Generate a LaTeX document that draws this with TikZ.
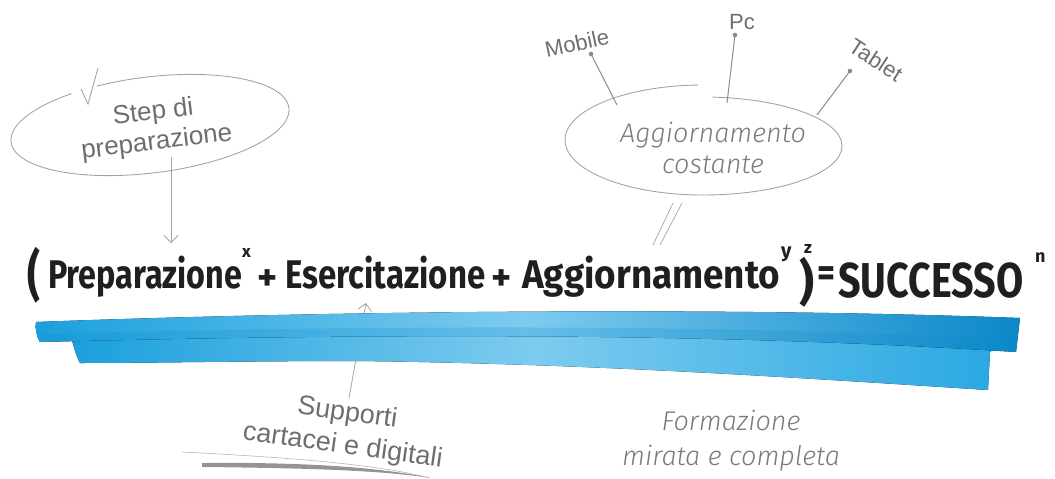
\documentclass[tikz,border=0pt]{standalone}
\usepackage{fontspec}
\setmainfont{Liberation Sans}
\newfontfamily\formfont{Fira Sans}
\newfontfamily\handfont{Fira Sans Light}[ItalicFont={Fira Sans Light Italic}]
\usetikzlibrary{arrows.meta}
\newcommand\fs[1]{\fontsize{#1}{#1}\selectfont}
\newcommand\fitw[2]{\resizebox{#1}{\height}{#2}}
\definecolor{bl1}{HTML}{1BA0DC}
\definecolor{bl2}{HTML}{7DCBEF}
\definecolor{bl3}{HTML}{0B88C9}
\definecolor{bl4}{HTML}{2AA8E2}
\definecolor{lab}{HTML}{6E6E6E}
\definecolor{hand}{HTML}{7A7A7A}
\definecolor{sk}{HTML}{A4A4A4}
\tikzset{
  sketch/.style={draw=sk, line width=0.9pt},
  garrow/.style={draw=sk, line width=0.8pt, -{Straight Barb[length=7pt,width=14pt]}},
  formula/.style={inner sep=0pt, text=black!88, font=\formfont\bfseries},
  label/.style={inner sep=0pt, text=lab, font=\fs{22}},
  handtext/.style={inner sep=0pt, text=hand, align=center, font=\handfont\itshape\fontsize{27}{31}\selectfont},
  pin/.style={draw=sk!85!black, line width=1pt},
}
\begin{document}
\begin{tikzpicture}[x=1pt,y=1pt]
\useasboundingbox (0,0) rectangle (1055,-479);

% ---- Step di preparazione ----
\begin{scope}[shift={(150,-125)}, rotate=7]
  \draw[sketch] (122:140pt and 48pt) arc[start angle=122, end angle=470, x radius=140pt, y radius=48pt];
\end{scope}
\draw[sketch] (81,-89) -- (88,-104) -- (98,-68);
\node[inner sep=0pt, text=lab, align=center, rotate=7, font=\fontsize{26}{30}\selectfont] (step) at (155,-128) {Step di\\preparazione};
\coordinate (stepbot) at (171,-157);
\coordinate (steptip) at (171,-243);
\draw[garrow] (stepbot) -- (steptip);

% ---- Aggiornamento costante ----
\draw[sketch] (703,-140) ++(92:138pt and 55pt) arc[start angle=92, end angle=270, x radius=138pt, y radius=55pt];
\draw[sketch] (703,-146) ++(-90:139pt and 49pt) arc[start angle=-90, end angle=86, x radius=139pt, y radius=49pt];
\node[handtext] (agg) at (713,-148) {Aggiornamento\\costante};

\node[label, rotate=12] (mobile) at (577,-43) {Mobile};
\node[label] (pc) at (742,-22) {Pc};
\node[label, rotate=-33] (tablet) at (876,-60) {Tablet};
\coordinate (mdot) at (591,-54);
\coordinate (pdot) at (735,-35);
\coordinate (tdot) at (850,-71);
\coordinate (mend) at (617,-105);
\coordinate (pend) at (727,-103);
\coordinate (tend) at (817,-115);
\draw[pin] (mdot) -- (mend);
\draw[pin] (pdot) -- (pend);
\draw[pin] (tdot) -- (tend);
\fill[sk!85!black] (mdot) circle (2.3pt) (pdot) circle (2.3pt) (tdot) circle (2.3pt);

\coordinate (s1a) at (653,-245); \coordinate (s1b) at (673,-203);
\coordinate (s2a) at (660,-245); \coordinate (s2b) at (682,-203);
\draw[sketch, line width=0.7pt] (s1a) -- (s1b) (s2a) -- (s2b);

% ---- Supporti arrow (behind stroke) ----
\node[inner sep=0pt, text=lab, align=center, rotate=-8, font=\fontsize{27}{33}\selectfont] (supp) at (345,-430) {Supporti\\cartacei e digitali};
\coordinate (suppbot) at (349,-398);
\coordinate (supptip) at (366,-303);
\draw[garrow] (suppbot) -- (supptip);

% ---- blue brush stroke ----
\fill[left color=bl1, right color=bl4, middle color=bl2]
  (72,-340) .. controls (350,-331) and (700,-330) .. (996,-347)
  -- (990,-352) -- (988,-390)
  .. controls (800,-378) and (600,-364) .. (357,-361)
  .. controls (250,-361) and (150,-363) .. (80,-363)
  .. controls (76,-355) and (74,-348) .. (72,-340) -- cycle;
\fill[left color=bl1, right color=bl3, middle color=bl2]
  (36,-322) .. controls (300,-312) and (700,-306) .. (1020,-318)
  -- (1016,-352)
  .. controls (800,-338) and (500,-330) .. (40,-342)
  .. controls (36,-335) and (35,-328) .. (36,-322) -- cycle;
\fill[bl3, opacity=0.2]
  (40,-342) .. controls (500,-330) and (800,-338) .. (1016,-352)
  -- (1017,-340) .. controls (800,-328) and (500,-322) .. (39,-334) -- cycle;

% ---- swoosh ----
\draw[draw=sk!80, line width=0.6pt] (182,-452) .. controls (300,-458) and (380,-465) .. (430,-478);
\fill[sk!90!black] (202,-463) .. controls (300,-462) and (380,-467) .. (430,-478)
  .. controls (380,-470) and (300,-468) .. (202,-467) -- cycle;

% ---- Formazione ----
\node[handtext, font=\handfont\itshape\fontsize{27}{35}\selectfont] (form) at (731,-441) {Formazione\\mirata e completa};

% ---- formula ----
\node[formula, anchor=north west] (lp) at (27,-247) {\fs{40}\resizebox*{13pt}{56pt}{(}};
\node[formula, anchor=base west] (prep) at (48,-288) {\fs{40}\fitw{194pt}{Preparazione}};
\node[formula, anchor=base west] (supx) at (242,-257) {\fs{17}x};
\node[formula] (plus1) at (268,-280) {\fs{38}+};
\node[formula, anchor=base west] (eser) at (285,-288) {\fs{40}\fitw{200pt}{Esercitazione}};
\node[formula] (plus2) at (502,-280) {\fs{38}+};
\node[formula, anchor=base west] (aggf) at (522,-288) {\fs{40}\fitw{258pt}{Aggiornamento}};
\node[formula, anchor=base west] (supy) at (781,-257) {\fs{20}y};
\node[formula, anchor=north west] (rp) at (799,-257) {\fs{40}\resizebox*{15pt}{50pt}{)}};
\node[formula, anchor=base west] (supz) at (804,-253) {\fs{17}z};
\node[formula] (eq) at (826,-277) {\fs{40}\fitw{18pt}{=}};
\node[formula, anchor=base west] (succ) at (838,-297) {\fs{49}\fitw{185pt}{SUCCESSO}};
\node[formula, anchor=base west] (supn) at (1035,-262) {\fs{18}n};
\end{tikzpicture}
\end{document}
